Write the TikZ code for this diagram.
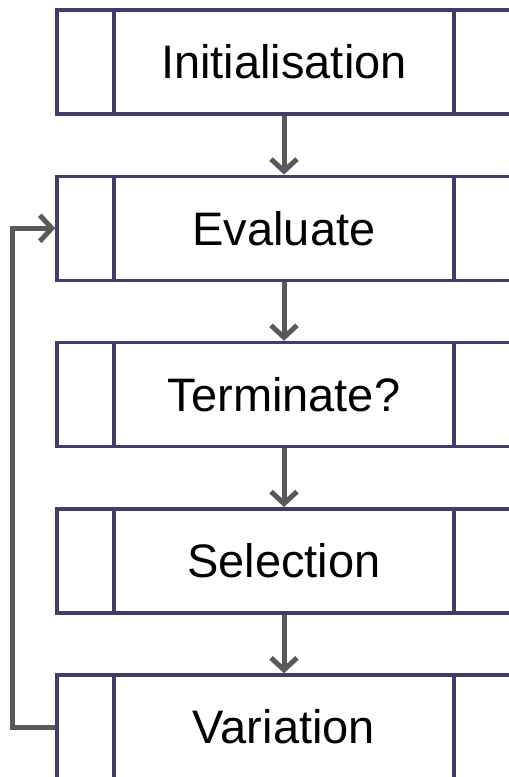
\documentclass[tikz,border=0pt]{standalone}
\usepackage{fontspec}
\setmainfont{Liberation Sans}
\usetikzlibrary{arrows.meta}
\definecolor{boxblue}{RGB}{62,62,104}
\definecolor{arrowgray}{RGB}{89,89,89}
\begin{document}
\begin{tikzpicture}[
		x=1pt,y=-1pt,
		>={Straight Barb[length=12pt,width=26pt]},
		stage/.style={draw=boxblue,line width=3.5pt,fill=white,minimum width=454pt,minimum height=104pt,inner sep=0pt,font=\fontsize{47}{56}\selectfont},
		cell/.style={draw=boxblue,line width=3.5pt},
		flow/.style={->,draw=arrowgray,line width=5pt}
		]
		\useasboundingbox (0,0) rectangle (509,777);
		\node[stage] (init) at (284,62) {Initialisation};
		\node[stage] (eval) at (284,228.25) {Evaluate};
		\node[stage] (term) at (284,394.5) {Terminate?};
		\node[stage] (sel) at (284,560.75) {Selection};
		\node[stage] (var) at (284,727) {Variation};
		\foreach \n in {init,eval,term,sel,var}{
			\draw[cell] ([xshift=58.75pt]\n.north west) -- ([xshift=58.75pt]\n.south west);
			\draw[cell] ([xshift=-58.75pt]\n.north east) -- ([xshift=-58.75pt]\n.south east);
		}
		\draw[flow] (init) -- (eval);
		\draw[flow] (eval) -- (term);
		\draw[flow] (term) -- (sel);
		\draw[flow] (sel) -- (var);
		\draw[flow] (var.west) -- ++(-43.25,0) |- (eval.west);
		\end{tikzpicture}
\end{document}
